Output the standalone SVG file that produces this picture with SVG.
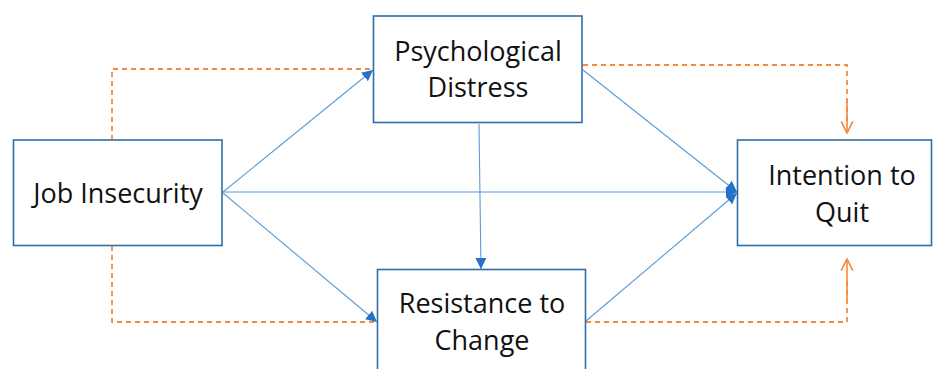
<svg xmlns="http://www.w3.org/2000/svg" width="934" height="369" viewBox="0 0 934 369">
<defs>
<style>
.box{fill:#fff;stroke:#2E6DA8;stroke-width:1.6}
.lbl{font-family:"Open Sans","Liberation Sans",sans-serif;font-size:27px;fill:#111;text-anchor:middle}
.blue{stroke:#5B9BD5;stroke-width:1.1;fill:none}
.orange{stroke:#F58A3C;stroke-width:1.8;fill:none;stroke-dasharray:5,4}
.orsolid{stroke:#F58A3C;stroke-width:1.6;fill:none}
</style>
<marker id="tri" viewBox="0 0 10 10" refX="10" refY="5" markerWidth="11" markerHeight="11" markerUnits="userSpaceOnUse" orient="auto">
<path d="M0,0 L10,5 L0,10 Z" fill="#2472C8"/>
</marker>
<marker id="vopen" viewBox="0 0 12 12" refX="11" refY="6" markerWidth="14" markerHeight="14" markerUnits="userSpaceOnUse" orient="auto">
<path d="M1,1 L11,6 L1,11" fill="none" stroke="#F58A3C" stroke-width="1.4"/>
</marker>
</defs>
<rect width="934" height="369" fill="#fff"/>
<g id="connectors">
<polyline class="orange" points="112,140 112,69 373,69"/>
<polyline class="orange" points="112,246 112,322 377,322"/>
<polyline class="orange" points="583,65 847,65 847,122"/>
<polyline class="orsolid" points="847,100 847,133" marker-end="url(#vopen)"/>
<polyline class="orange" points="586,322 847,322 847,280"/>
<polyline class="orsolid" points="847,300 847,259" marker-end="url(#vopen)"/>
<line class="blue" x1="223" y1="192" x2="373" y2="70" marker-end="url(#tri)"/>
<line class="blue" x1="223" y1="193" x2="377" y2="322" marker-end="url(#tri)"/>
<line class="blue" x1="223" y1="192" x2="737" y2="192" marker-end="url(#tri)"/>
<line class="blue" x1="583" y1="70" x2="737" y2="192" marker-end="url(#tri)"/>
<line class="blue" x1="586" y1="321" x2="737" y2="193" marker-end="url(#tri)"/>
<line class="blue" x1="479" y1="124" x2="481" y2="269" marker-end="url(#tri)"/>
</g>
<g id="job-insecurity">
<rect class="box" x="13.5" y="140" width="208.5" height="105.5"/>
<text class="lbl" x="118" y="203">Job Insecurity</text>
</g>
<g id="psychological-distress">
<rect class="box" x="373.5" y="16" width="208.5" height="106.5"/>
<text class="lbl" x="478" y="61">Psychological</text>
<text class="lbl" x="478" y="97">Distress</text>
</g>
<g id="resistance-to-change">
<rect class="box" x="377.5" y="269.5" width="208" height="110"/>
<text class="lbl" x="482" y="313">Resistance to</text>
<text class="lbl" x="482" y="350">Change</text>
</g>
<g id="intention-to-quit">
<rect class="box" x="737.5" y="140" width="194" height="105.5"/>
<text class="lbl" x="842" y="185">Intention to</text>
<text class="lbl" x="842" y="222">Quit</text>
</g>
</svg>
